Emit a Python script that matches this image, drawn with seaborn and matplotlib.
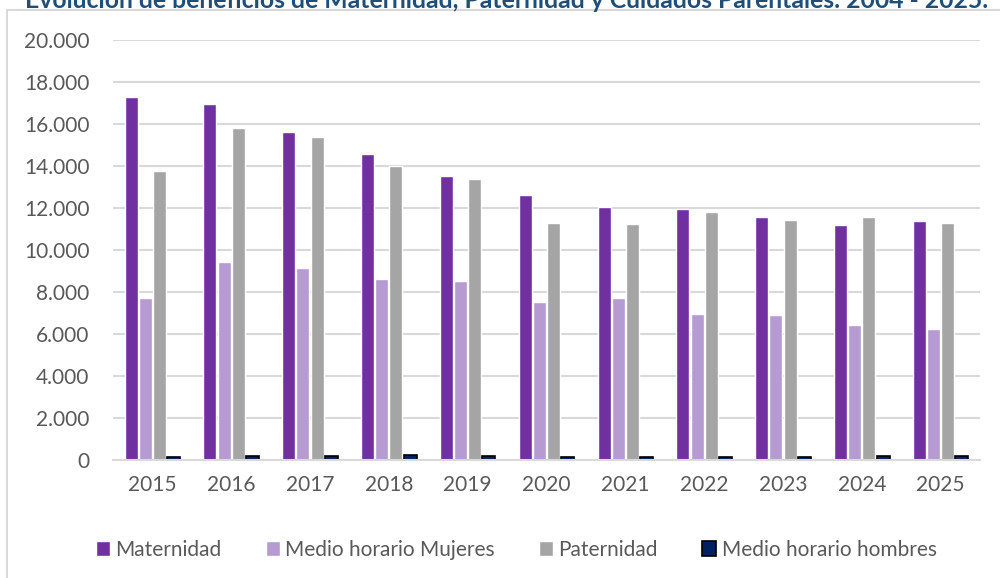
import matplotlib
matplotlib.use('Agg')
import matplotlib.pyplot as plt
import matplotlib.ticker as mticker
from matplotlib.patches import Rectangle
import pandas as pd
import seaborn as sns

years = ['2015', '2016', '2017', '2018', '2019', '2020', '2021', '2022', '2023', '2024', '2025']
maternidad = [17300, 16950, 15600, 14550, 13500, 12600, 12050, 11950, 11550, 11200, 11400]
mujeres = [7700, 9450, 9150, 8600, 8500, 7500, 7700, 6950, 6900, 6450, 6250]
paternidad = [13750, 15800, 15400, 14000, 13400, 11300, 11250, 11800, 11450, 11550, 11300]
hombres = [150, 200, 180, 220, 170, 150, 150, 130, 150, 180, 170]

series = ['Maternidad', 'Medio horario Mujeres', 'Paternidad', 'Medio horario hombres']
colors = ['#7030A0', '#B69AD2', '#A5A5A5', '#002060']
title = 'Evolución de beneficios de Maternidad, Paternidad y Cuidados Parentales. 2004 - 2025.'

rows = []
for name, vals in zip(series, [maternidad, mujeres, paternidad, hombres]):
    for y, v in zip(years, vals):
        rows.append({'year': y, 'serie': name, 'value': v})
df = pd.DataFrame(rows)

sns.set_theme(style='white')
plt.rcParams['font.family'] = ['Lato', 'DejaVu Sans']

fig = plt.figure(figsize=(10, 5.78), dpi=100)
ax = fig.add_axes([0.113, 0.2042, 0.867, 0.7266])

sns.barplot(data=df, x='year', y='value', hue='serie', hue_order=series,
            palette=colors, width=0.72, gap=0.08, ax=ax, saturation=1, legend=True)

# black edge on the small bars
for bar in ax.containers[3]:
    bar.set_edgecolor('black')
    bar.set_linewidth(1.2)

ax.set_ylim(0, 20000)
ax.set_yticks(range(0, 20001, 2000))
ax.yaxis.set_major_formatter(mticker.FuncFormatter(lambda v, p: f'{int(v):,}'.replace(',', '.')))
ax.grid(axis='y', color='#D9D9D9', linewidth=1.5)
ax.set_axisbelow(True)
for s in ['top', 'right', 'left']:
    ax.spines[s].set_visible(False)
ax.spines['bottom'].set_color('#D9D9D9')
ax.spines['bottom'].set_linewidth(1.5)
ax.tick_params(axis='both', length=0, labelsize=15, colors='#595959')
ax.tick_params(axis='x', pad=11)
ax.tick_params(axis='y', pad=17)
ax.set_xlabel('')
ax.set_ylabel('')

leg = ax.legend(loc='center', bbox_to_anchor=(0.465, -0.214), ncol=4, frameon=False,
                fontsize=15, handlelength=0.7, handleheight=0.7, handletextpad=0.25,
                columnspacing=2.1, labelcolor='#595959')
leg.legend_handles[3].set_edgecolor('black')
leg.legend_handles[3].set_linewidth(1.2)

fig.patches.append(Rectangle((0.007, -0.05), 1.05, 1.05 - 10 / 578, transform=fig.transFigure,
                             fill=False, edgecolor='#D9D9D9', linewidth=1.5))

fig.text(0.025, 1 - 8 / 578, title, fontsize=17.8, fontweight='bold', color='#1F4E79',
         ha='left', va='baseline')

fig.savefig('out.png', dpi=100)
